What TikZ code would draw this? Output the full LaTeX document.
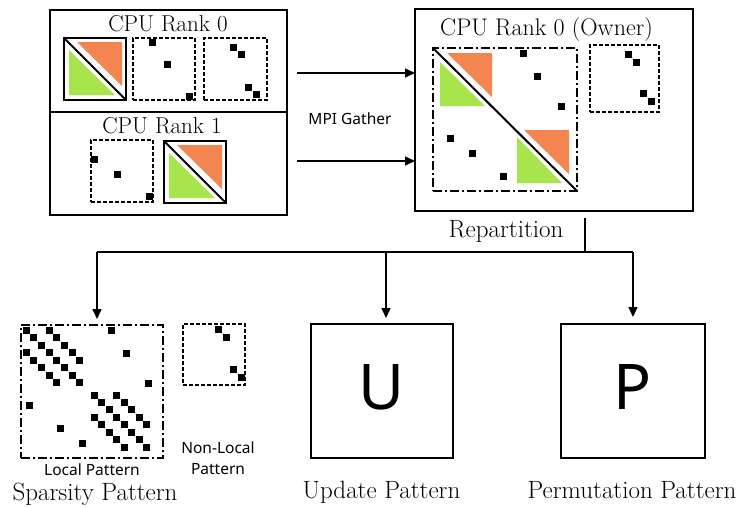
\documentclass[tikz,border=0pt]{standalone}
\usepackage{fontspec}
\newfontfamily\sansf{Noto Sans}
\usetikzlibrary{arrows.meta}
\definecolor{orng}{RGB}{243,133,80}
\definecolor{grn}{RGB}{168,228,76}
\newcommand\dt[2]{\fill ({#1-3.5},{#2-3.5}) rectangle ({#1+3.5},{#2+3.5});}
\newcommand\trisq[2]{\begin{scope}[shift={(#1,#2)}]
 \fill[orng] (13,4) -- (58,4) -- (58,48) -- cycle;
 \fill[grn] (5,12) -- (5,57) -- (51,57) -- cycle;
 \draw[line width=2pt] (0,0) -- (62,62);
 \draw[line width=2.5pt] (0,0) rectangle (62,62);
\end{scope}}
\tikzset{
 box/.style={draw, line width=1.6pt, inner sep=0, outer sep=0},
 dsq/.style={draw, line width=1.6pt, dash pattern=on 4pt off 2pt, inner sep=0, outer sep=0},
 ddsq/.style={draw, line width=1.6pt, dash pattern=on 9pt off 3pt on 2pt off 3pt, inner sep=0, outer sep=0},
 conn/.style={line width=1.5pt},
 arr/.style={line width=1.5pt, -{Triangle[length=10pt,width=9pt]}},
 ser/.style={font=\fontsize{25}{29}\selectfont, anchor=base, inner sep=0},
 sml/.style={font=\sansf\fontsize{15.5}{21}\selectfont, anchor=base, inner sep=0},
 big/.style={font=\sansf\fontsize{63}{70}\selectfont, inner sep=0},
}
\begin{document}
\begin{tikzpicture}[x=1pt,y=-1pt]
\useasboundingbox (0,0) rectangle (739,507);

% ---------- left box (ranks) ----------
\node[box, minimum width=237, minimum height=205] (lbox) at (168.5,112.5) {};
\coordinate (dv) at (0,112);
\draw[line width=1.6pt] (lbox.west |- dv) -- (lbox.east |- dv);
\node[ser, font=\fontsize{23}{27}\selectfont] (t0) at (168,31) {CPU Rank 0};
\node[ser, font=\fontsize{23}{27}\selectfont] (t1) at (162,133) {CPU Rank 1};

% rank 0
\trisq{64}{38}
\node[dsq, minimum width=62, minimum height=62] (r0a) at (164,69) {};
\dt{152}{42}\dt{167}{64}\dt{189}{96}
\node[dsq, minimum width=63, minimum height=62] (r0b) at (235.5,69) {};
\dt{233}{47}\dt{241}{54}\dt{248}{87}\dt{256}{94}

% rank 1
\node[dsq, minimum width=62, minimum height=62] (r1a) at (122,171) {};
\dt{94}{159}\dt{117}{174}\dt{149}{196}
\trisq{164}{141}

% ---------- owner box ----------
\node[box, minimum width=278, minimum height=202] (rbox) at (554,110) {};
\node[ser, font=\fontsize{24}{28}\selectfont] (t2) at (546.5,35) {CPU Rank 0 (Owner)};
\node[ddsq, minimum width=144, minimum height=143] (osq) at (505,119.5) {};
\fill[orng] (447,53) -- (492,53) -- (492,97) -- cycle;
\fill[grn] (440,62) -- (440,106) -- (485,106) -- cycle;
\fill[orng] (524,130) -- (569,130) -- (569,174) -- cycle;
\fill[grn] (517,137) -- (517,183) -- (562,183) -- cycle;
\draw[line width=2pt] (osq.north west) -- (osq.south east);
\dt{523}{53}\dt{537}{76}\dt{561}{106}\dt{450}{138}\dt{472}{153}\dt{503}{176}
\node[dsq, minimum width=69, minimum height=67] (onl) at (624.5,78.5) {};
\dt{628}{54}\dt{636}{62}\dt{643}{93}\dt{651}{101}

% ---------- MPI gather ----------
\coordinate (m1s) at (297,73);
\coordinate (m2s) at (297,161);
\draw[arr] (m1s) -- (m1s -| rbox.west);
\draw[arr] (m2s) -- (m2s -| rbox.west);
\node[sml] (tmpi) at (350,124) {MPI Gather};

% ---------- repartition ----------
\node[ser] (trep) at (506,237) {Repartition};
\coordinate (rp) at (585,218);
\coordinate (br) at (585,252);
\coordinate (bl) at (97,252);
\coordinate (bu) at (386,252);
\coordinate (bp) at (633,252);
\draw[conn] (rp) -- (br);
\draw[conn] (bl) -- (bp);

% ---------- bottom: sparsity ----------
\node[ddsq, minimum width=142, minimum height=133] (locsq) at (92,391.5) {};
\foreach \i in {0,...,7} {\dt{26+7.7*\i}{330+7.5*\i}\dt{94+7.52*\i}{395+7.47*\i}}
\foreach \i in {0,...,4} {
  \dt{26+7.7*(\i+3)}{330+7.5*\i}\dt{26+7.7*\i}{330+7.5*(\i+3)}
  \dt{94+7.52*(\i+3)}{395+7.47*\i}\dt{94+7.52*\i}{395+7.47*(\i+3)}}
\dt{111}{330}\dt{126}{353}\dt{148}{383}\dt{29}{405}\dt{60}{428}\dt{82}{443}
\node[dsq, minimum width=62, minimum height=61] (nlsq) at (214,354.5) {};
\dt{218}{329}\dt{226}{337}\dt{233}{369}\dt{241}{377}
\node[sml] (tloc) at (92,475) {Local Pattern};
\node[sml, align=center] (tnl) at (218,474) {Non-Local\\Pattern};
\node[ser] (tsp) at (95,500) {Sparsity Pattern};

% ---------- update / permutation ----------
\node[box, minimum width=142, minimum height=134] (ubox) at (382,391) {};
\node[big] (uletter) at (382,387) {U};
\node[ser] (tup) at (381.5,498) {Update Pattern};
\node[box, minimum width=144, minimum height=134] (pbox) at (633,391) {};
\node[big] (pletter) at (633,387) {P};
\node[ser] (tpp) at (632,498) {Permutation Pattern};

\draw[arr, shorten >=6pt] (bl) -- (bl |- locsq.north);
\draw[arr, shorten >=6pt] (bu) -- (bu |- ubox.north);
\draw[arr, shorten >=7pt] (bp) -- (bp |- pbox.north);
\end{tikzpicture}
\end{document}
